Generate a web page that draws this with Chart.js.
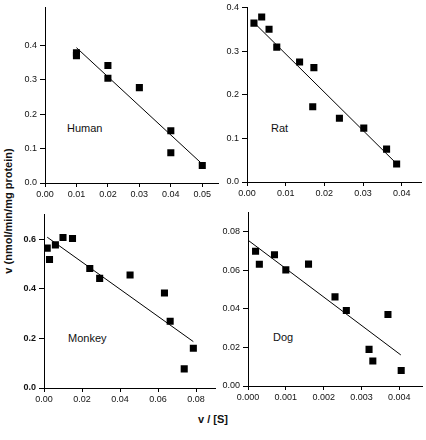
<!DOCTYPE html>
<html>
<head>
<meta charset="utf-8">
<script src="https://cdn.jsdelivr.net/npm/chart.js@4.4.0/dist/chart.umd.min.js"></script>
<style>
  body { margin: 0; background: #fff; }
  #wrap { position: relative; width: 426px; height: 440px; overflow: hidden; background: #fff;
          font-family: "Liberation Sans", Arial, Helvetica, sans-serif; color: #111; }
  canvas { position: absolute; }
  .lbl { position: absolute; font-size: 11px; line-height: 11px; white-space: nowrap; }
  .ttl { position: absolute; font-size: 11px; font-weight: bold; line-height: 11px; white-space: nowrap; }
</style>
</head>
<body>
<div id="wrap">
  <div class="lbl" style="left:67px; top:123px;">Human</div>
  <div class="lbl" style="left:271px; top:123px;">Rat</div>
  <div class="lbl" style="left:68px; top:333px;">Monkey</div>
  <div class="lbl" style="left:273px; top:332px;">Dog</div>
  <div class="ttl" style="left:8px; top:211px; transform: translate(-50%, -50%) rotate(-90deg);">v (nmol/min/mg protein)</div>
  <div class="ttl" style="left:213px; top:419px; transform: translate(-50%, -50%);">v / [S]</div>
</div>
<script>
// valori
var humanX = [0.01, 0.01, 0.02, 0.02, 0.03, 0.04, 0.04, 0.05];
var humanY = [0.378, 0.370, 0.341, 0.304, 0.277, 0.152, 0.088, 0.051];
var humanLineX = [0.01, 0.05];
var humanLineY = [0.393, 0.055];

var ratX = [0.0018, 0.0038, 0.0057, 0.0077, 0.0136, 0.0173, 0.0170, 0.0239, 0.0302, 0.0361, 0.0387];
var ratY = [0.364, 0.378, 0.350, 0.309, 0.275, 0.262, 0.1725, 0.146, 0.1235, 0.0753, 0.0414];
var ratLineX = [0.0016, 0.0388];
var ratLineY = [0.367, 0.041];

var monkeyX = [0.0017, 0.0029, 0.006, 0.010, 0.015, 0.0241, 0.0293, 0.0453, 0.0634, 0.0664, 0.0738, 0.0786];
var monkeyY = [0.564, 0.518, 0.577, 0.607, 0.603, 0.482, 0.442, 0.456, 0.383, 0.269, 0.077, 0.160];
var monkeyLineX = [0.0017, 0.0786];
var monkeyLineY = [0.608, 0.187];

var dogX = [0.0002, 0.0003, 0.0007, 0.001, 0.0016, 0.0023, 0.0026, 0.0037, 0.0032, 0.0033, 0.00405];
var dogY = [0.0699, 0.0631, 0.068, 0.0602, 0.0632, 0.0462, 0.0391, 0.0371, 0.019, 0.013, 0.008];
var dogLineX = [0, 0.00404];
var dogLineY = [0.0756, 0.0161];

var FONT = '"Liberation Sans", Arial, Helvetica, sans-serif';
var YW = 40, PT = 6, XH = 24, PR = 2;

function toPoints(xs, ys) {
  return xs.map(function (x, i) { return { x: x, y: ys[i] }; });
}

// tacche da 0 fino all'ultima etichetta
function stepTicks(step, last) {
  var out = [];
  var n = Math.round(last / step);
  for (var i = 0; i <= n; i++) out.push({ value: +(i * step).toFixed(6) });
  return out;
}

function makePanel(p) {
  var canvas = document.createElement('canvas');
  var w = (p.R - p.L) + YW + PR;
  var h = (p.B - p.T) + PT + XH;
  canvas.width = w;
  canvas.height = h;
  canvas.style.left = (p.L - YW) + 'px';
  canvas.style.top = (p.T - PT) + 'px';
  canvas.style.width = w + 'px';
  canvas.style.height = h + 'px';
  document.getElementById('wrap').appendChild(canvas);

  new Chart(canvas.getContext('2d'), {
    type: 'scatter',
    data: {
      datasets: [{
        data: toPoints(p.x, p.y),
        pointStyle: 'rect',
        pointRadius: 5,
        pointBackgroundColor: '#000',
        pointBorderWidth: 0,
        showLine: false
      }, {
        data: toPoints(p.lx, p.ly),
        showLine: true,
        borderColor: '#000',
        borderWidth: 1,
        pointRadius: 0,
        fill: false
      }]
    },
    options: {
      responsive: false,
      animation: false,
      devicePixelRatio: 1,
      layout: { padding: { top: PT, right: PR, left: 0, bottom: 0 } },
      plugins: { legend: { display: false }, tooltip: { enabled: false } },
      scales: {
        x: {
          type: 'linear',
          min: 0,
          max: p.xMax,
          afterBuildTicks: function (axis) { axis.ticks = stepTicks(p.xStep, p.xLast); },
          afterFit: function (s) { s.height = XH; },
          ticks: {
            autoSkip: false,
            maxRotation: 0,
            padding: 2,
            color: '#111',
            font: { family: FONT, size: 9 },
            callback: function (v) { return Number(v).toFixed(p.xDec); }
          },
          grid: { drawOnChartArea: false, drawTicks: true, tickLength: 4, color: '#000' },
          border: { display: true, color: '#000', width: 1 }
        },
        y: {
          type: 'linear',
          min: 0,
          max: p.yMax,
          afterBuildTicks: function (axis) { axis.ticks = stepTicks(p.yStep, p.yLast); },
          afterFit: function (s) { s.width = YW; },
          ticks: {
            autoSkip: false,
            padding: 3,
            color: '#111',
            font: { family: FONT, size: 9, weight: p.yBold ? 'bold' : 'normal' },
            callback: function (v) { return Number(v).toFixed(p.yDec); }
          },
          grid: { drawOnChartArea: false, drawTicks: true, tickLength: 5, color: '#000' },
          border: { display: true, color: '#000', width: 1 }
        }
      }
    }
  });
}

// Human
makePanel({ L: 45, T: 5, R: 221, B: 183,
  x: humanX, y: humanY, lx: humanLineX, ly: humanLineY,
  xMax: 0.055, xLast: 0.05, xStep: 0.01, xDec: 2,
  yMax: 0.51, yLast: 0.4, yStep: 0.1, yDec: 1 });

// Rat
makePanel({ L: 247, T: 5, R: 424, B: 182,
  x: ratX, y: ratY, lx: ratLineX, ly: ratLineY,
  xMax: 0.045, xLast: 0.04, xStep: 0.01, xDec: 2,
  yMax: 0.4, yLast: 0.4, yStep: 0.1, yDec: 1 });

// Monkey
makePanel({ L: 44, T: 212, R: 218, B: 388,
  x: monkeyX, y: monkeyY, lx: monkeyLineX, ly: monkeyLineY,
  xMax: 0.09, xLast: 0.08, xStep: 0.02, xDec: 2,
  yMax: 0.7, yLast: 0.6, yStep: 0.2, yDec: 1, yBold: true });

// Dog
makePanel({ L: 248, T: 210, R: 425, B: 386,
  x: dogX, y: dogY, lx: dogLineX, ly: dogLineY,
  xMax: 0.0046, xLast: 0.004, xStep: 0.001, xDec: 3,
  yMax: 0.09, yLast: 0.08, yStep: 0.02, yDec: 2 });
</script>
</body>
</html>
